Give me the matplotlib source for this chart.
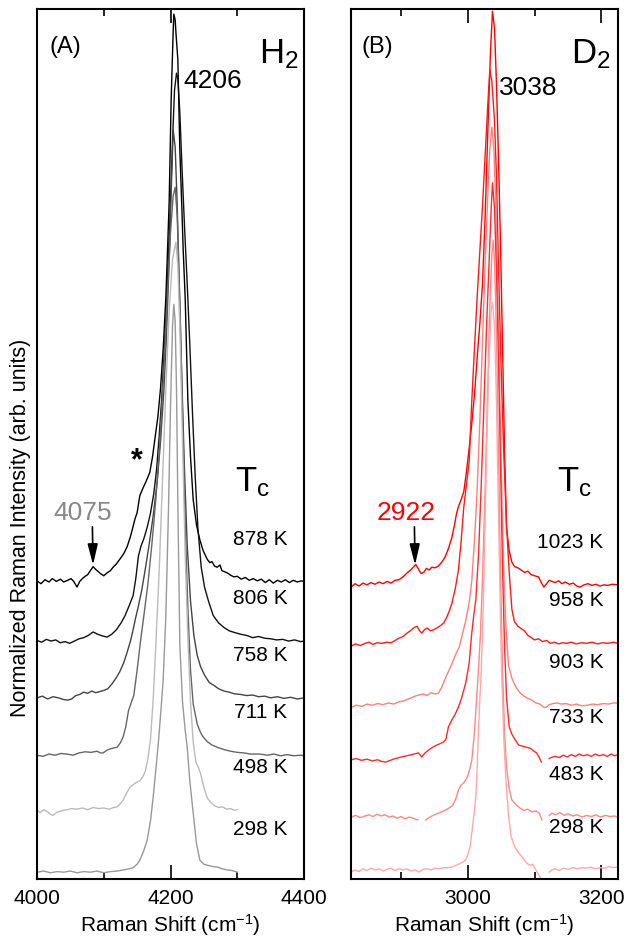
import numpy as np
import matplotlib
matplotlib.use('Agg')
import matplotlib.pyplot as plt
from matplotlib.ticker import MultipleLocator

plt.rcParams['font.family'] = ['Liberation Sans', 'DejaVu Sans']
plt.rcParams['mathtext.fontset'] = 'custom'
plt.rcParams['mathtext.rm'] = 'Liberation Sans'
plt.rcParams['mathtext.it'] = 'Liberation Sans:italic'

nan = np.nan

# H2 spectra (normalized intensity, peak = 1), hottest first
h2_878 = [(4000, 0.002), (4006, -0.003), (4012, 0.004), (4018, 0.000), (4023, 0.006), (4029, 0.001), (4035, 0.005),
          (4040, 0.000), (4046, 0.003), (4051, 0.006), (4055, 0.001), (4060, -0.009), (4064, 0.001), (4068, 0.006),
          (4072, 0.010), (4076, 0.013), (4080, 0.020), (4084, 0.027), (4088, 0.022), (4092, 0.018), (4096, 0.014),
          (4100, 0.011), (4105, 0.016), (4110, 0.020), (4114, 0.026), (4119, 0.032), (4124, 0.040), (4130, 0.050),
          (4135, 0.062), (4140, 0.080), (4144, 0.098), (4147, 0.112), (4150, 0.122), (4154, 0.152), (4159, 0.166),
          (4163, 0.176), (4169, 0.193), (4173, 0.220), (4177, 0.255), (4181, 0.290), (4185, 0.340), (4189, 0.410),
          (4193, 0.500), (4196, 0.600), (4198, 0.670), (4201, 0.850), (4204, 0.970), (4205, 1.000), (4207, 0.990),
          (4208, 0.970), (4211, 0.920), (4214, 0.760), (4217, 0.660), (4219, 0.585), (4222, 0.500), (4226, 0.320),
          (4230, 0.220), (4234, 0.145), (4239, 0.100), (4244, 0.074), (4249, 0.055), (4255, 0.040), (4259, 0.034),
          (4262, 0.036), (4266, 0.028), (4270, 0.026), (4274, 0.030), (4277, 0.020), (4281, 0.018), (4285, 0.016),
          (4290, 0.012), (4295, 0.009), (4300, 0.010), (4306, 0.005), (4312, 0.008), (4318, 0.003), (4324, 0.006),
          (4330, 0.002), (4336, 0.005), (4342, -0.001), (4348, 0.004), (4354, -0.002), (4360, 0.003), (4366, 0.000),
          (4372, 0.004), (4378, -0.001), (4384, 0.003), (4390, 0.000), (4396, 0.002), (4400, 0.001)]
h2_806 = [(4000, 0.001), (4007, -0.002), (4014, 0.003), (4021, 0.000), (4028, 0.002), (4035, -0.003), (4042, -0.001),
          (4049, -0.004), (4056, 0.000), (4063, 0.004), (4070, 0.006), (4077, 0.010), (4084, 0.016), (4091, 0.012),
          (4098, 0.009), (4105, 0.007), (4112, 0.012), (4119, 0.020), (4126, 0.032), (4132, 0.045), (4138, 0.062),
          (4144, 0.080), (4148, 0.110), (4152, 0.150), (4156, 0.168), (4160, 0.180), (4165, 0.200), (4170, 0.225),
          (4175, 0.260), (4179, 0.300), (4183, 0.360), (4187, 0.430), (4191, 0.520), (4195, 0.620), (4199, 0.740),
          (4203, 0.880), (4206, 0.970), (4209, 1.000), (4211, 0.990), (4214, 0.930), (4217, 0.840), (4221, 0.730),
          (4225, 0.630), (4229, 0.520), (4233, 0.400), (4237, 0.290), (4241, 0.200), (4246, 0.130), (4251, 0.095),
          (4257, 0.070), (4264, 0.045), (4272, 0.032), (4280, 0.024), (4288, 0.018), (4296, 0.015), (4305, 0.012),
          (4314, 0.010), (4323, 0.006), (4332, 0.008), (4341, 0.005), (4350, 0.004), (4359, 0.002), (4368, 0.003),
          (4377, 0.000), (4386, 0.002), (4395, -0.001), (4400, 0.000)]
h2_758 = [(4000, 0.000), (4008, 0.003), (4016, -0.002), (4024, 0.002), (4032, 0.000), (4040, -0.003), (4046, -0.004),
          (4052, -0.002), (4058, 0.004), (4064, 0.006), (4070, 0.010), (4076, 0.008), (4082, 0.012), (4088, 0.009),
          (4094, 0.011), (4100, 0.013), (4106, 0.016), (4112, 0.024), (4118, 0.034), (4124, 0.046), (4130, 0.062),
          (4135, 0.080), (4140, 0.100), (4144, 0.120), (4148, 0.142), (4152, 0.162), (4157, 0.190), (4162, 0.225),
          (4168, 0.270), (4174, 0.320), (4180, 0.380), (4185, 0.450), (4190, 0.540), (4194, 0.640), (4198, 0.770),
          (4201, 0.890), (4204, 1.000), (4207, 0.970), (4210, 0.870), (4213, 0.730), (4217, 0.560), (4221, 0.400),
          (4225, 0.270), (4230, 0.170), (4235, 0.110), (4240, 0.075), (4245, 0.055), (4251, 0.040), (4258, 0.027),
          (4265, 0.022), (4272, 0.016), (4280, 0.012), (4288, 0.010), (4296, 0.007), (4305, 0.006), (4314, 0.004),
          (4323, 0.005), (4332, 0.002), (4341, 0.003), (4350, 0.000), (4360, 0.002), (4370, -0.001), (4380, 0.001),
          (4390, -0.002), (4400, 0.000)]
h2_711 = [(4000, 0.000), (4009, -0.002), (4018, 0.002), (4027, 0.000), (4036, 0.003), (4045, 0.002), (4054, 0.000),
          (4063, 0.004), (4072, 0.006), (4081, 0.005), (4090, 0.007), (4095, 0.004), (4099, 0.004), (4105, 0.009),
          (4112, 0.012), (4120, 0.014), (4125, 0.022), (4129, 0.032), (4133, 0.050), (4137, 0.078), (4141, 0.092),
          (4145, 0.105), (4150, 0.150), (4155, 0.200), (4160, 0.245), (4166, 0.300), (4172, 0.370), (4178, 0.450),
          (4184, 0.550), (4190, 0.680), (4195, 0.800), (4200, 0.920), (4204, 0.985), (4207, 1.000), (4210, 0.950),
          (4214, 0.800), (4218, 0.600), (4222, 0.410), (4226, 0.260), (4230, 0.150), (4234, 0.090), (4240, 0.055),
          (4245, 0.040), (4249, 0.032), (4255, 0.024), (4262, 0.018), (4270, 0.014), (4280, 0.010), (4290, 0.007),
          (4300, 0.005), (4310, 0.004), (4320, 0.002), (4334, 0.002), (4345, 0.000), (4355, 0.002), (4365, -0.001),
          (4375, 0.001), (4385, -0.001), (4395, 0.000), (4400, -0.001)]
h2_498 = [(4000, 0.000), (4005, -0.004), (4010, 0.001), (4016, -0.003), (4020, -0.007), (4024, -0.009), (4029, -0.004),
          (4034, -0.002), (4040, 0.000), (4045, 0.001), (4052, 0.003), (4060, 0.002), (4068, 0.004), (4076, 0.001),
          (4084, 0.005), (4092, 0.003), (4100, 0.004), (4108, 0.002), (4115, 0.005), (4120, 0.006), (4125, 0.012),
          (4129, 0.018), (4134, 0.030), (4139, 0.040), (4145, 0.046), (4150, 0.050), (4154, 0.052), (4158, 0.058),
          (4162, 0.068), (4166, 0.090), (4170, 0.125), (4174, 0.194), (4178, 0.290), (4183, 0.420), (4188, 0.580),
          (4193, 0.740), (4198, 0.880), (4203, 0.970), (4208, 1.000), (4211, 0.960), (4214, 0.850), (4218, 0.650),
          (4222, 0.450), (4226, 0.300), (4230, 0.190), (4234, 0.120), (4238, 0.085), (4242, 0.075), (4245, 0.065),
          (4250, 0.040), (4255, 0.022), (4260, 0.014), (4266, 0.008), (4272, 0.005), (4278, 0.006), (4284, 0.002),
          (4290, 0.003), (4296, 0.000), (4300, 0.001)]
h2_298 = [(4000, 0.000), (4010, 0.002), (4020, -0.001), (4030, 0.001), (4040, 0.000), (4050, 0.002), (4060, -0.001),
          (4070, 0.001), (4080, 0.000), (4090, 0.002), (4100, -0.001), (4110, 0.001), (4120, 0.002), (4130, 0.004),
          (4138, 0.006), (4144, 0.008), (4150, 0.014), (4154, 0.021), (4160, 0.038), (4165, 0.056), (4170, 0.090),
          (4174, 0.132), (4178, 0.180), (4182, 0.230), (4186, 0.290), (4189, 0.338), (4193, 0.450), (4197, 0.640),
          (4200, 0.820), (4203, 0.960), (4205, 1.000), (4207, 0.970), (4209, 0.850), (4211, 0.650), (4214, 0.400),
          (4218, 0.300), (4222, 0.250), (4225, 0.220), (4229, 0.160), (4234, 0.104), (4239, 0.050), (4244, 0.021),
          (4250, 0.014), (4256, 0.012), (4263, 0.010), (4270, 0.009), (4277, 0.006), (4285, 0.004), (4292, 0.003),
          (4300, 0.000)]

# D2 spectra
d2_1023 = [(2825, -0.004), (2831, 0.002), (2837, -0.002), (2843, 0.003), (2849, 0.000), (2855, 0.004), (2861, 0.001),
           (2867, 0.005), (2873, 0.002), (2879, 0.006), (2885, 0.003), (2891, 0.008), (2897, 0.009), (2903, 0.014),
           (2909, 0.021), (2915, 0.027), (2919, 0.032), (2922, 0.036), (2926, 0.028), (2930, 0.020), (2934, 0.022),
           (2938, 0.029), (2942, 0.026), (2946, 0.031), (2951, 0.030), (2956, 0.033), (2961, 0.040), (2966, 0.049),
           (2971, 0.064), (2976, 0.083), (2980, 0.105), (2983, 0.125), (2986, 0.138), (2990, 0.150), (2994, 0.164),
           (2998, 0.200), (3002, 0.240), (3006, 0.285), (3010, 0.335), (3014, 0.400), (3018, 0.460), (3022, 0.530),
           (3026, 0.650), (3030, 0.800), (3034, 0.940), (3037, 1.010), (3040, 0.980), (3043, 0.880), (3046, 0.750),
           (3049, 0.600), (3052, 0.420), (3055, 0.240), (3058, 0.100), (3062, 0.060), (3066, 0.040), (3070, 0.032),
           (3075, 0.030), (3080, 0.026), (3085, 0.022), (3090, 0.024), (3095, 0.018), (3100, 0.016), (3106, 0.014),
           (3110, 0.004), (3114, -0.004), (3118, 0.002), (3122, 0.008), (3126, 0.006), (3131, 0.004), (3136, 0.007),
           (3141, 0.002), (3146, 0.005), (3152, 0.001), (3158, 0.003), (3163, -0.002), (3168, -0.004), (3174, 0.000),
           (3180, 0.002), (3186, -0.001), (3192, 0.001), (3198, -0.002), (3204, 0.000), (3210, -0.001), (3216, 0.001),
           (3225, 0.000)]
d2_958 = [(2825, -0.005), (2832, -0.001), (2839, -0.004), (2846, 0.000), (2852, 0.002), (2858, -0.002), (2864, 0.001),
          (2871, 0.000), (2878, 0.002), (2885, 0.001), (2891, 0.005), (2897, 0.009), (2903, 0.012), (2909, 0.018),
          (2915, 0.023), (2920, 0.028), (2924, 0.030), (2928, 0.022), (2931, 0.018), (2935, 0.024), (2939, 0.027),
          (2944, 0.022), (2949, 0.024), (2955, 0.028), (2960, 0.032), (2964, 0.036), (2968, 0.045), (2972, 0.056),
          (2976, 0.070), (2981, 0.095), (2986, 0.129), (2990, 0.180), (2994, 0.240), (2998, 0.280), (3002, 0.320),
          (3006, 0.428), (3010, 0.520), (3014, 0.610), (3018, 0.690), (3022, 0.770), (3026, 0.860), (3030, 0.950),
          (3033, 1.010), (3036, 0.990), (3040, 0.920), (3043, 0.820), (3046, 0.660), (3050, 0.480), (3054, 0.330),
          (3058, 0.210), (3062, 0.125), (3066, 0.060), (3070, 0.038), (3075, 0.030), (3080, 0.026), (3085, 0.022),
          (3090, 0.014), (3095, 0.010), (3100, 0.006), (3106, 0.008), (3112, 0.003), (3118, 0.005), (3124, 0.000),
          (3130, 0.002), (3136, -0.001), (3142, 0.001), (3148, 0.000), (3155, 0.002), (3162, -0.001), (3170, 0.001),
          (3178, 0.000), (3186, 0.002), (3194, -0.001), (3202, 0.001), (3210, 0.000), (3218, 0.002), (3225, 0.000)]
d2_903 = [(2825, -0.004), (2833, 0.000), (2841, -0.002), (2849, 0.002), (2857, 0.000), (2865, 0.003), (2873, 0.001),
          (2881, 0.004), (2889, 0.002), (2897, 0.006), (2905, 0.008), (2913, 0.012), (2921, 0.016), (2927, 0.018),
          (2933, 0.020), (2939, 0.017), (2945, 0.022), (2951, 0.020), (2956, 0.021), (2961, 0.032), (2967, 0.049),
          (2972, 0.062), (2977, 0.075), (2982, 0.090), (2987, 0.102), (2992, 0.125), (2997, 0.150), (3002, 0.180),
          (3006, 0.220), (3010, 0.290), (3014, 0.380), (3018, 0.500), (3022, 0.640), (3026, 0.780), (3030, 0.900),
          (3033, 0.980), (3036, 1.018), (3039, 0.980), (3042, 0.880), (3045, 0.720), (3048, 0.540), (3051, 0.370),
          (3054, 0.230), (3057, 0.140), (3061, 0.070), (3066, 0.048), (3072, 0.032), (3078, 0.022), (3084, 0.016),
          (3090, 0.012), (3096, 0.009), (3102, 0.004), (3108, 0.002), (3113, -0.003), (3117, -0.004), (3122, 0.001),
          (3128, 0.003), (3134, 0.004), (3140, 0.002), (3147, 0.003), (3155, 0.000), (3163, 0.002), (3171, -0.001),
          (3179, 0.000), (3187, 0.002), (3195, 0.001), (3203, 0.003), (3211, 0.002), (3218, 0.004), (3225, 0.004)]
d2_733 = [(2825, 0.000), (2833, 0.002), (2841, -0.001), (2849, 0.001), (2857, -0.002), (2865, 0.000), (2871, -0.003),
          (2877, -0.004), (2884, -0.001), (2891, 0.002), (2898, 0.004), (2905, 0.006), (2912, 0.008), (2919, 0.010),
          (2926, 0.012), (2931, 0.005), (2936, 0.012), (2941, 0.017), (2946, 0.021), (2952, 0.025), (2958, 0.028),
          (2963, 0.031), (2967, 0.035), (2971, 0.058), (2976, 0.070), (2981, 0.080), (2986, 0.093), (2991, 0.110),
          (2997, 0.136), (3002, 0.170), (3006, 0.224), (3009, 0.255), (3012, 0.282), (3016, 0.360), (3020, 0.480),
          (3024, 0.620), (3028, 0.760), (3032, 0.880), (3035, 0.970), (3037, 1.016), (3040, 0.970), (3043, 0.860),
          (3046, 0.700), (3049, 0.520), (3052, 0.340), (3055, 0.200), (3058, 0.110), (3062, 0.058), (3066, 0.045),
          (3071, 0.035), (3076, 0.026), (3082, 0.024), (3088, 0.022), (3094, 0.020), (3098, 0.016), (3103, 0.012),
          (3107, 0.004), (3110, -0.004), (nan, nan), (3122, 0.002), (3125, 0.004), (3131, 0.006), (3137, 0.004),
          (3143, 0.008), (3149, 0.005), (3155, 0.009), (3161, 0.006), (3167, 0.010), (3173, 0.007), (3179, 0.009),
          (3185, 0.006), (3191, 0.010), (3197, 0.007), (3203, 0.009), (3209, 0.006), (3215, 0.010), (3220, 0.007),
          (3225, 0.009)]
d2_483 = [(2825, 0.000), (2832, 0.003), (2839, -0.001), (2846, 0.002), (2852, 0.004), (2858, 0.001), (2864, 0.005),
          (2870, 0.002), (2876, 0.004), (2882, 0.000), (2888, 0.002), (2894, -0.002), (2900, 0.001), (2906, -0.003),
          (2912, 0.000), (2918, -0.002), (2925, -0.005), (nan, nan), (2937, -0.005), (2942, -0.001), (2948, 0.003),
          (2954, 0.006), (2960, 0.009), (2966, 0.012), (2972, 0.016), (2977, 0.020), (2982, 0.032), (2986, 0.048),
          (2990, 0.056), (2995, 0.062), (2999, 0.070), (3003, 0.085), (3006, 0.100), (3010, 0.150), (3013, 0.206),
          (3016, 0.260), (3019, 0.324), (3022, 0.420), (3026, 0.580), (3030, 0.760), (3033, 0.900), (3036, 0.990),
          (3038, 1.016), (3040, 0.980), (3043, 0.850), (3046, 0.640), (3049, 0.430), (3052, 0.260), (3055, 0.150),
          (3058, 0.088), (3062, 0.050), (3066, 0.030), (3072, 0.022), (3078, 0.016), (3084, 0.012), (3090, 0.014),
          (3096, 0.009), (3102, 0.011), (3107, 0.007), (3111, -0.005), (nan, nan), (3122, 0.003), (3126, 0.007),
          (3132, 0.004), (3138, 0.008), (3144, 0.003), (3150, 0.006), (3157, 0.002), (3164, 0.004), (3171, 0.000),
          (3178, 0.003), (3185, 0.001), (3192, 0.004), (3199, 0.000), (3206, 0.003), (3213, 0.001), (3220, 0.002),
          (3225, 0.000)]
d2_298 = [(2825, -0.004), (2831, 0.000), (2837, -0.003), (2843, 0.002), (2849, -0.001), (2855, 0.003), (2861, 0.000),
          (2867, 0.002), (2873, -0.002), (2879, 0.001), (2885, 0.003), (2891, -0.001), (2897, 0.002), (2903, 0.000),
          (2909, 0.002), (2915, -0.002), (2921, 0.000), (2927, -0.004), (2933, 0.001), (2939, 0.002), (2945, 0.000),
          (2951, 0.003), (2957, 0.002), (2963, 0.004), (2970, 0.004), (2976, 0.005), (2982, 0.008), (2988, 0.011),
          (2993, 0.014), (2997, 0.018), (3001, 0.030), (3004, 0.045), (3006, 0.065), (3009, 0.095), (3012, 0.129),
          (3014, 0.180), (3016, 0.246), (3018, 0.300), (3020, 0.345), (3023, 0.460), (3026, 0.620), (3029, 0.780),
          (3032, 0.910), (3035, 0.985), (3037, 1.000), (3040, 0.960), (3043, 0.820), (3046, 0.620), (3049, 0.440),
          (3051, 0.335), (3054, 0.230), (3057, 0.158), (3061, 0.095), (3065, 0.058), (3070, 0.042), (3076, 0.030),
          (3082, 0.022), (3088, 0.012), (3093, 0.008), (3097, 0.010), (3100, 0.004), (3104, -0.004), (3108, -0.012),
          (3111, -0.020), (nan, nan), (3122, -0.004), (3126, 0.000), (3131, 0.002), (3137, -0.001), (3143, 0.003),
          (3150, 0.001), (3157, 0.004), (3164, 0.002), (3171, 0.004), (3177, 0.003), (3184, 0.005), (3191, 0.002),
          (3198, 0.004), (3205, 0.003), (3212, 0.006), (3218, 0.004), (3225, 0.005)]

h2_spectra = [h2_878, h2_806, h2_758, h2_711, h2_498, h2_298]
h2_temps = ['878 K', '806 K', '758 K', '711 K', '498 K', '298 K']
h2_offsets = [0.523, 0.419, 0.319, 0.218, 0.121, 0.012]
h2_colors = ['#000000', '#111111', '#444444', '#666666', '#bbbbbb', '#999999']

d2_spectra = [d2_1023, d2_958, d2_903, d2_733, d2_483, d2_298]
d2_temps = ['1023 K', '958 K', '903 K', '733 K', '483 K', '298 K']
d2_offsets = [0.518, 0.415, 0.306, 0.210, 0.109, 0.016]
d2_colors = ['#ff0000', '#ff1a1a', '#ff8080', '#ff2a2a', '#ff8888', '#ffaaaa']

fig = plt.figure(figsize=(6.26, 9.4), dpi=100)
ax1 = fig.add_axes([37/626, 61/940, 267/626, 870/940])
ax2 = fig.add_axes([351/626, 61/940, 267/626, 870/940])

def draw_panel(ax, spectra, offsets, colors, temps, xlim, label_x):
    for spec, off, col in zip(spectra, offsets, colors):
        arr = np.array(spec, dtype=float)
        ax.plot(arr[:, 0], arr[:, 1] + off, color=col, lw=1.0)
    # temperature labels sit between the traces
    for t, off in zip(temps, offsets):
        ax.text(label_x, off + 0.075, t, ha='right', va='center', fontsize=15)
    ax.set_xlim(*xlim)
    ax.set_ylim(0, 1.532)
    ax.set_yticks([])
    ax.xaxis.set_major_locator(MultipleLocator(200))
    ax.xaxis.set_minor_locator(MultipleLocator(100))
    ax.tick_params(axis='x', which='both', direction='in', top=True, width=1.2, labelsize=15, pad=7)
    ax.tick_params(axis='x', which='major', length=10)
    ax.tick_params(axis='x', which='minor', length=5)
    for s in ax.spines.values():
        s.set_linewidth(1.5)
    ax.set_xlabel('Raman Shift (cm$^{-1}$)', fontsize=15, labelpad=3)

draw_panel(ax1, h2_spectra, h2_offsets, h2_colors, h2_temps, (4000, 4400), 4375)
draw_panel(ax2, d2_spectra, d2_offsets, d2_colors, d2_temps, (2825, 3225), 3203)

arrow = dict(arrowstyle='-|>,head_length=0.9,head_width=0.22', color='black', lw=1.2, shrinkA=0, shrinkB=0,
             mutation_scale=14)

# panel A annotations
ax1.text(4018, 1.465, '(A)', fontsize=17, ha='left', va='center')
ax1.text(4333, 1.437, 'H$_2$', fontsize=25, ha='left', va='baseline')
ax1.text(4219, 1.405, '4206', fontsize=19, ha='left', va='center')
ax1.text(4069, 0.644, '4075', fontsize=19, ha='center', va='center', color='#888888')
ax1.annotate('', xy=(4084, 0.553), xytext=(4083, 0.62), arrowprops=arrow)
ax1.text(4150, 0.735, '*', fontsize=22, ha='center', va='center', fontweight='bold')
ax1.text(4297, 0.683, 'T$_\\mathrm{c}$', fontsize=25, ha='left', va='baseline')

# panel B annotations
ax2.text(2841, 1.465, '(B)', fontsize=17, ha='left', va='center')
ax2.text(3155, 1.437, 'D$_2$', fontsize=25, ha='left', va='baseline')
ax2.text(3046, 1.393, '3038', fontsize=19, ha='left', va='center')
ax2.text(2907, 0.644, '2922', fontsize=19, ha='center', va='center', color='red')
ax2.annotate('', xy=(2921, 0.553), xytext=(2920, 0.62), arrowprops=arrow)
ax2.text(3134, 0.683, 'T$_\\mathrm{c}$', fontsize=25, ha='left', va='baseline')

fig.text(21/626, 1 - 528/940, 'Normalized Raman Intensity (arb. units)', rotation=90,
         ha='center', va='center', fontsize=15.5)

fig.savefig('out.png')
plt.close(fig)
